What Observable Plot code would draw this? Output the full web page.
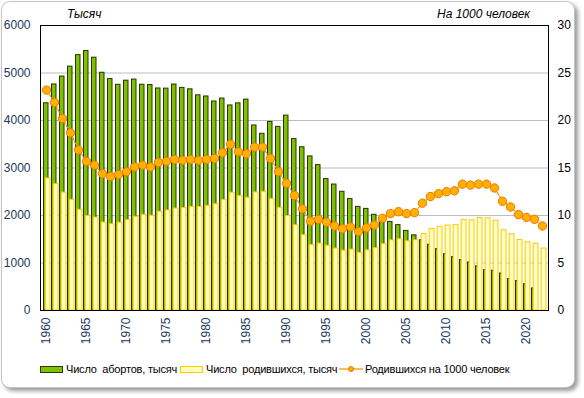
<!DOCTYPE html>
<html>
<head>
<meta charset="utf-8">
<script src="https://cdn.jsdelivr.net/npm/d3@7"></script>
<script src="https://cdn.jsdelivr.net/npm/@observablehq/plot@0.6"></script>
<style>
  html, body { margin: 0; padding: 0; background: #fff; }
  body { width: 584px; height: 398px; position: relative; overflow: hidden; font-family: "Liberation Sans", Arial, sans-serif; }
  #box { position: absolute; left: 1px; top: 1px; width: 572px; height: 385px; border: 1px solid #c4c4c4; border-radius: 9px; box-shadow: 3px 3px 4px rgba(0,0,0,0.4); background: #fff; }
  #chart { position: absolute; left: 0; top: 0; }
  .ttl { position: absolute; top: 7px; font-size: 12px; font-style: italic; color: #000; white-space: nowrap; }
  #legend { position: absolute; top: 362px; left: 0; width: 584px; font-size: 11px; letter-spacing: -0.2px; color: #000; }
  .item { position: absolute; top: 0; white-space: nowrap; display: flex; align-items: center; height: 14px; }
  .sw { display: inline-block; width: 21px; height: 5px; margin-right: 3px; }
</style>
</head>
<body>
<div id="box"></div>
<div class="ttl" style="left:67px">Тысяч</div>
<div class="ttl" style="right:54px">На 1000 человек</div>
<div id="chart"></div>
<div id="legend">
  <div class="item" style="left:40px"><span class="sw" style="background:#7cc200;border:1px solid #2b3a00"></span>Число&nbsp; абортов, тысяч</div>
  <div class="item" style="left:180px"><span class="sw" style="background:#ffffc0;border:1px solid #ffcc00"></span>Число&nbsp; родившихся, тысяч</div>
  <div class="item" style="left:339px"><svg width="24" height="10" style="margin-right:2px"><line x1="0" y1="5" x2="24" y2="5" stroke="#f39200" stroke-width="1.2"/><circle cx="12" cy="5" r="2.5" fill="#ffb000" stroke="#f07800"/></svg>Родившихся на 1000 человек</div>
</div>
<script>
const years = d3.range(1960, 2023);
const abortions = [4363, 4759, 4925, 5134, 5376, 5463, 5322, 5005, 4872, 4751,
  4838, 4862, 4753, 4747, 4674, 4671, 4757, 4686, 4656, 4530,
  4506, 4400, 4462, 4317, 4361, 4440, 3895, 3720, 3970, 3866,
  4103, 3608, 3437, 3244, 3061, 2766, 2652, 2499, 2346, 2181,
  2139, 2015, 1945, 1864, 1797, 1676, 1582, 1479, 1385, 1292,
  1186, 1124, 1064, 1012, 930, 848, 837, 779, 661, 621,
  553, 465];
const births = [2782, 2662, 2482, 2331, 2121, 1991, 1957, 1852, 1816, 1848,
  1904, 1974, 2015, 1995, 2080, 2107, 2147, 2157, 2179, 2179,
  2203, 2237, 2329, 2479, 2409, 2375, 2486, 2500, 2348, 2161,
  1989, 1795, 1588, 1379, 1408, 1364, 1305, 1260, 1283, 1215,
  1267, 1312, 1397, 1477, 1502, 1457, 1480, 1610, 1714, 1762,
  1789, 1797, 1902, 1896, 1947, 1940, 1889, 1690, 1604, 1485,
  1436, 1399, 1305];
const rate = [23.2, 21.9, 20.2, 18.7, 16.9, 15.7, 15.3, 14.4, 14.1, 14.3,
  14.6, 15.1, 15.3, 15.1, 15.6, 15.7, 15.9, 15.8, 15.9, 15.8,
  15.9, 16.0, 16.6, 17.5, 16.7, 16.5, 17.2, 17.2, 16.0, 14.6,
  13.4, 12.1, 10.7, 9.4, 9.6, 9.3, 8.9, 8.6, 8.8, 8.3,
  8.7, 9.0, 9.7, 10.2, 10.4, 10.2, 10.3, 11.3, 12.0, 12.3,
  12.5, 12.6, 13.3, 13.2, 13.3, 13.3, 12.9, 11.5, 10.9, 10.1,
  9.8, 9.6, 8.9];
const leftTicks = [0, 1000, 2000, 3000, 4000, 5000, 6000];
const rightTicks = [0, 5, 10, 15, 20, 25, 30];
const yearTicks = years.filter(y => y % 5 === 0);
const K = 200; // 30 per 1000 <-> 6000 thousand

const abData = abortions.map((v, i) => ({year: years[i], v}));
const biData = births.map((v, i) => ({year: years[i], v}));
const rtData = rate.map((v, i) => ({year: years[i], v: v * K}));

const chart = Plot.plot({
  width: 584,
  height: 350,
  marginLeft: 40,
  marginRight: 36,
  marginTop: 25,
  marginBottom: 40,
  style: {fontFamily: "'Liberation Sans', Arial, sans-serif", fontSize: "12px", background: "transparent", overflow: "visible"},
  x: {type: "band", domain: years, padding: 0, axis: null},
  y: {domain: [0, 6000], axis: null},
  marks: [
    Plot.gridY(leftTicks.slice(1, -1), {stroke: "#bdbdbd", strokeOpacity: 1}),
    Plot.barY(abData, {x: "year", y: "v", fill: "#7cc200", stroke: "#2b3300", strokeWidth: 1, insetLeft: 1.5, insetRight: 2}),
    Plot.barY(biData, {x: "year", y: "v", fill: "#ffffc0", stroke: "#ffc800", strokeWidth: 1, insetLeft: 3.2, insetRight: 0}),
    Plot.line(rtData, {x: "year", y: "v", stroke: "#f39200", strokeWidth: 1.2, strokeDasharray: "3,1.5"}),
    Plot.dot(rtData, {x: "year", y: "v", r: 4.2, fill: "#ffb000", stroke: "#f07800", strokeWidth: 1}),
    Plot.frame({stroke: "#000", strokeWidth: 1}),
    Plot.axisY(leftTicks, {anchor: "left", tickSize: 0, tickPadding: 10, fill: "#17395a", fontSize: 12, label: null, tickFormat: d => String(d)}),
    Plot.axisY(leftTicks, {anchor: "right", tickSize: 0, tickPadding: 9, fill: "#000", fontSize: 12, label: null, tickFormat: d => String(d / K)}),
    Plot.axisX(yearTicks, {anchor: "bottom", tickSize: 0, tickPadding: 7, tickRotate: -90, fill: "#17395a", fontSize: 12, label: null, tickFormat: d => String(d)})
  ]
});
document.getElementById("chart").appendChild(chart);
</script>
</body>
</html>
